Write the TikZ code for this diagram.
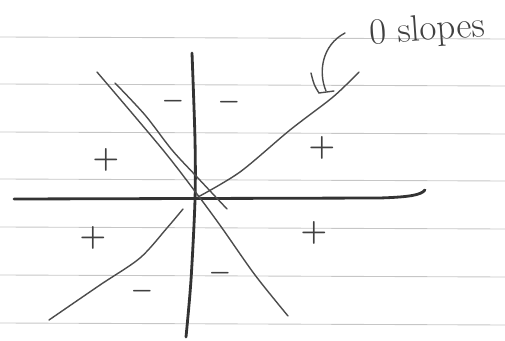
\documentclass[tikz,border=0pt]{standalone}
\begin{document}
\begin{tikzpicture}[x=0.02cm, y=-0.02cm,
  rule/.style={gray!45, line width=0.5pt},
  axis/.style={black!80, line width=1.6pt, line cap=round},
  pen/.style={black!70, line width=0.8pt, line cap=round},
  sign/.style={black!75, inner sep=0pt, font=\LARGE\boldmath},
  every node/.style={font=\scriptsize}]
\useasboundingbox (0,0) rectangle (505,341);
% ruled paper
\foreach \y in {37,84,132,179,227,275,323}
  \draw[rule] (0,\y) -- (505,\y+2);
% axes
\draw[axis] (14,199) -- (380,198) .. controls (410,197) and (421,195) .. (425,190);
\draw[axis] plot[smooth] coordinates {(192,53) (195,140) (195,200) (191,280) (186,337)};
% two falling lines
\draw[pen] plot[smooth] coordinates {(97,72) (163,150) (200,198) (222,228) (255,275) (288,316)};
\draw[pen] plot[smooth] coordinates {(115,83) (145,115) (172,150) (197,177) (227,209)};
% rising line, broken at the origin
\draw[pen] plot[smooth] coordinates {(198,197) (240,172) (290,130) (333,97) (359,72)};
\draw[pen] plot[smooth] coordinates {(183,209) (167,228) (140,258) (100,285) (49,320)};
% signs of the regions
\node[sign, font=\Large\boldmath] (nwminus) at (173,101) {$-$};
\node[sign, font=\Large\boldmath] (neminus) at (229,102) {$-$};
\node[sign] (wplus) at (106,160) {$+$};
\node[sign] (eplus) at (322,148) {$+$};
\node[sign] (swplus) at (93,238) {$+$};
\node[sign] (seplus) at (314,233) {$+$};
\node[sign, font=\Large\boldmath] (sminus) at (220,273) {$-$};
\node[sign, font=\Large\boldmath] (swminus) at (142,291) {$-$};
% label and its arrow
\node[black!75, rotate=4, font=\fontsize{21}{24}\selectfont] (slopes) at (427,31) {0 slopes};
\coordinate (tail) at (345,33);
\coordinate (tip) at (326,91);
\draw[pen] (tail) .. controls (322,45) and (318,72) .. (tip);
\draw[pen] (311,73) .. controls (314,85) .. (319,93) -- (334,91);
\end{tikzpicture}
\end{document}
